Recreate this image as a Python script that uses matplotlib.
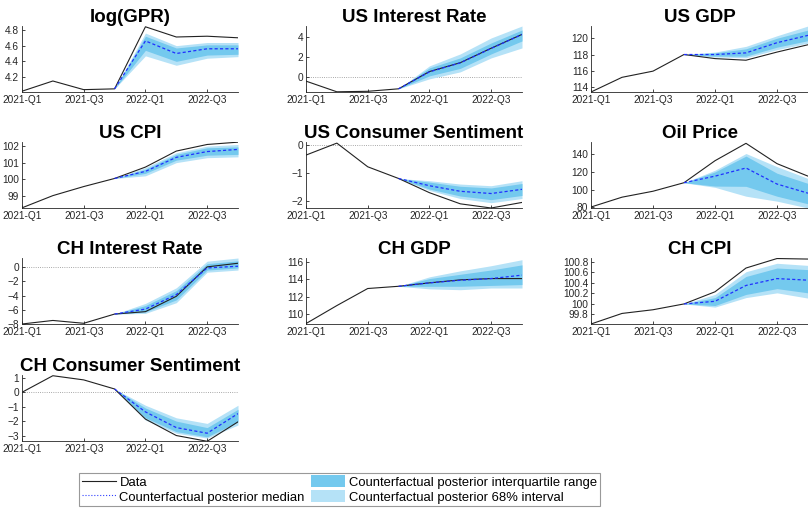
import numpy as np
import matplotlib.pyplot as plt
from matplotlib.lines import Line2D
from matplotlib.patches import Patch

plt.rcParams['font.family'] = ['Liberation Sans', 'DejaVu Sans']

quarters = ['2021-Q1', '2021-Q2', '2021-Q3', '2021-Q4', '2022-Q1', '2022-Q2', '2022-Q3', '2022-Q4']
titles = ['log(GPR)', 'US Interest Rate', 'US GDP', 'US CPI', 'US Consumer Sentiment',
          'Oil Price', 'CH Interest Rate', 'CH GDP', 'CH CPI', 'CH Consumer Sentiment']

# observed data, 8 quarters
data = [
    [4.02, 4.15, 4.04, 4.05, 4.84, 4.71, 4.72, 4.70],
    [-0.43, -1.5, -1.45, -1.2, 0.53, 1.42, 2.87, 4.26],
    [113.4, 115.2, 115.96, 118.0, 117.5, 117.3, 118.3, 119.2],
    [98.26, 99.0, 99.55, 100.04, 100.73, 101.7, 102.1, 102.24],
    [-0.35, 0.08, -0.77, -1.19, -1.70, -2.10, -2.25, -2.05],
    [80.4, 91.5, 98.2, 107.8, 132.6, 152.2, 129.3, 115.2],
    [-8.0, -7.5, -7.9, -6.6, -6.26, -4.1, 0.05, 0.56],
    [108.85, 110.95, 112.94, 113.2, 113.6, 113.95, 114.1, 114.1],
    [99.62, 99.82, 99.89, 100.0, 100.23, 100.68, 100.86, 100.85],
    [0.0, 1.15, 0.86, 0.23, -1.86, -3.0, -3.4, -2.05],
]

# counterfactual, 2022-Q1..2022-Q4 (starts from 2021-Q4 data)
median = [
    [4.66, 4.50, 4.56, 4.56],
    [0.50, 1.40, 2.85, 4.25],
    [118.0, 118.2, 119.45, 120.35],
    [100.47, 101.32, 101.67, 101.8],
    [-1.45, -1.65, -1.73, -1.58],
    [115.2, 124.4, 106.3, 96.0],
    [-5.9, -3.86, -0.1, 0.14],
    [113.6, 113.9, 114.1, 114.5],
    [100.05, 100.35, 100.48, 100.45],
    [-1.36, -2.45, -2.84, -1.48],
]
iqr_hi = [
    [4.72, 4.57, 4.61, 4.61],
    [0.9, 1.9, 3.4, 4.7],
    [118.2, 118.7, 120.0, 121.0],
    [100.6, 101.5, 101.9, 101.95],
    [-1.32, -1.47, -1.53, -1.37],
    [120.0, 137.8, 118.5, 107.0],
    [-5.4, -3.3, 0.5, 0.9],
    [114.1, 114.6, 115.1, 115.7],
    [100.12, 100.52, 100.68, 100.65],
    [-1.09, -2.0, -2.45, -1.18],
]
iqr_lo = [
    [4.54, 4.40, 4.48, 4.49],
    [0.1, 0.85, 2.3, 3.6],
    [117.8, 117.8, 118.9, 119.7],
    [100.35, 101.15, 101.45, 101.5],
    [-1.57, -1.82, -1.95, -1.8],
    [104.0, 103.7, 92.6, 84.0],
    [-6.3, -4.6, -0.4, -0.1],
    [113.2, 113.2, 113.3, 113.4],
    [99.97, 100.18, 100.29, 100.21],
    [-1.77, -2.73, -3.09, -2.05],
]
ci68_hi = [
    [4.76, 4.60, 4.64, 4.64],
    [1.1, 2.3, 3.9, 5.1],
    [118.3, 119.0, 120.3, 121.5],
    [100.7, 101.6, 102.0, 102.1],
    [-1.27, -1.39, -1.45, -1.27],
    [121.9, 140.7, 125.9, 112.6],
    [-5.1, -2.9, 0.85, 1.3],
    [114.3, 115.0, 115.6, 116.3],
    [100.18, 100.61, 100.77, 100.73],
    [-0.9, -1.77, -2.16, -0.9],
]
ci68_lo = [
    [4.47, 4.35, 4.44, 4.46],
    [-0.2, 0.5, 1.9, 2.9],
    [117.7, 117.6, 118.6, 119.4],
    [100.2, 101.0, 101.3, 101.35],
    [-1.62, -1.91, -2.06, -1.91],
    [102.6, 92.6, 87.0, 79.3],
    [-6.5, -5.0, -0.7, -0.4],
    [112.9, 112.8, 113.0, 113.0],
    [99.94, 100.12, 100.21, 100.11],
    [-1.93, -2.84, -3.18, -2.27],
]

ylims = [(4.01, 4.85), (-1.52, 5.1), (113.4, 121.5), (98.25, 102.25), (-2.25, 0.12),
         (79.3, 153.7), (-8.0, 1.3), (108.8, 116.5), (99.62, 100.87), (-3.38, 1.2)]
yticks = [[4.2, 4.4, 4.6, 4.8], [0, 2, 4], [114, 116, 118, 120], [99, 100, 101, 102], [-2, -1, 0],
          [80, 100, 120, 140], [-8, -6, -4, -2, 0], [110, 112, 114, 116],
          [99.8, 100, 100.2, 100.4, 100.6, 100.8], [-3, -2, -1, 0, 1]]
ytick_labels = [None, None, None, None, None, None, None, None,
                ['99.8', '100', '100.2', '100.4', '100.6', '100.8'], None]

W, H = 808, 517
fig = plt.figure(figsize=(W / 100, H / 100), dpi=100)

col_left = [22, 306, 591]
col_w = [216, 216, 217]
row_top = [26, 142, 258, 375]
ax_h = 66

light = '#b5e2f7'
dark = '#74c9ee'
gray = '#262626'

x = np.arange(len(quarters))
xf = x[3:]

for i, t in enumerate(titles):
    r, c = divmod(i, 3)
    ax = fig.add_axes([col_left[c] / W, 1 - (row_top[r] + ax_h) / H, col_w[c] / W, ax_h / H])
    d = data[i]
    hi68 = [d[3]] + ci68_hi[i]
    lo68 = [d[3]] + ci68_lo[i]
    hiq = [d[3]] + iqr_hi[i]
    loq = [d[3]] + iqr_lo[i]
    med = [d[3]] + median[i]
    ax.fill_between(xf, lo68, hi68, color=light, lw=0, zorder=1)
    ax.fill_between(xf, loq, hiq, color=dark, lw=0, zorder=2)
    lo, hi = ylims[i]
    if lo < 0 < hi:
        ax.axhline(0, color='#8c8c8c', lw=0.6, ls=':', zorder=0)
    ax.plot(x, d, color='#222222', lw=0.8, zorder=4)
    ax.plot(xf, med, color='#2030ff', lw=0.9, ls=(0, (2.5, 1.8)), zorder=5)
    ax.set_xlim(0, 7)
    ax.set_ylim(lo, hi)
    ax.set_xticks([0, 2, 4, 6])
    ax.set_xticklabels([quarters[k] for k in [0, 2, 4, 6]])
    ax.set_yticks(yticks[i])
    if ytick_labels[i] is not None:
        ax.set_yticklabels(ytick_labels[i])
    for s in ['top', 'right']:
        ax.spines[s].set_visible(False)
    for s in ['left', 'bottom']:
        ax.spines[s].set_color(gray)
        ax.spines[s].set_linewidth(0.6)
    ax.tick_params(direction='in', length=2.5, width=0.6, labelsize=7.3, colors=gray, pad=2)
    ax.set_title(t, fontsize=13.5, fontweight='bold', pad=2)

handles = [Line2D([], [], color='#222222', lw=0.8),
           Line2D([], [], color='#3040ff', lw=0.8, ls=':'),
           Patch(facecolor=dark, edgecolor='none'),
           Patch(facecolor=light, edgecolor='none')]
labels = ['Data', 'Counterfactual posterior median',
          'Counterfactual posterior interquartile range', 'Counterfactual posterior 68% interval']
leg = fig.legend(handles, labels, ncol=2, loc='center', bbox_to_anchor=(339.5 / W, 1 - 489.5 / H),
                 fontsize=9.4, frameon=True, fancybox=False, framealpha=1, edgecolor='#999999',
                 handlelength=2.6, handleheight=1.0, handletextpad=0.3, columnspacing=0.5,
                 borderpad=0.2, borderaxespad=0, labelspacing=0.12)
leg.get_frame().set_linewidth(0.8)

fig.savefig('out.png', dpi=100)
